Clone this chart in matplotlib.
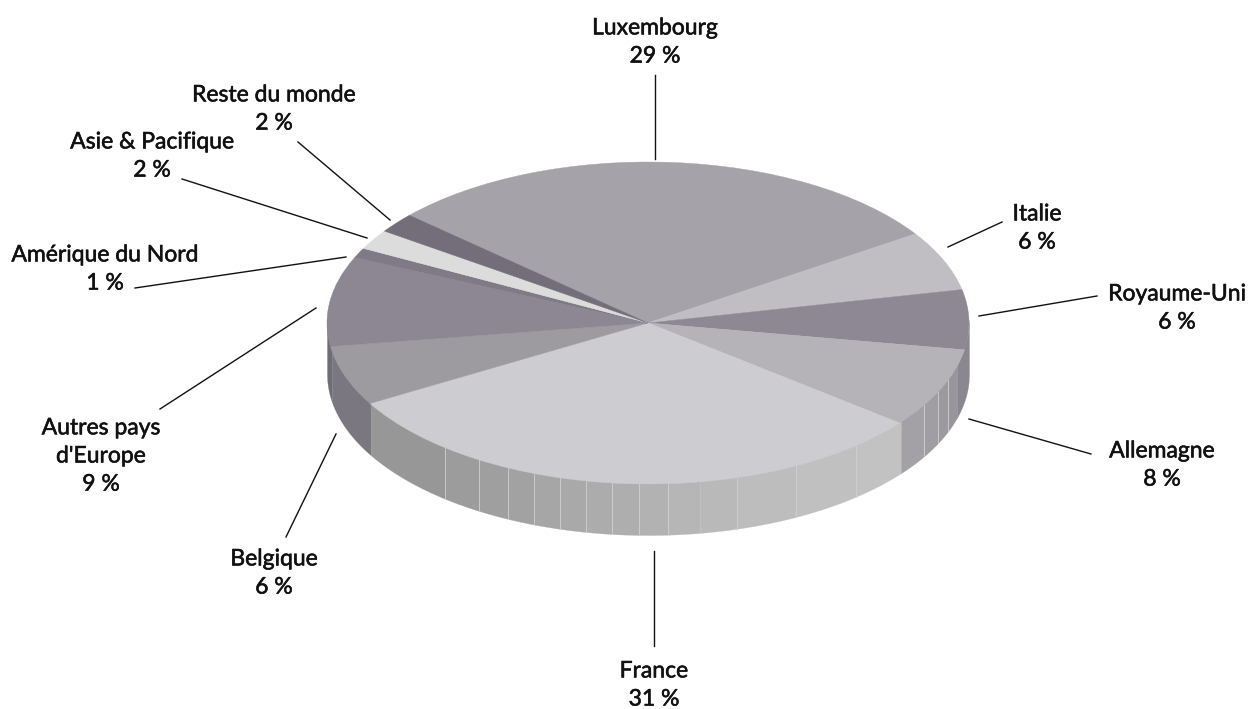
import numpy as np
import matplotlib
matplotlib.use("Agg")
import matplotlib.pyplot as plt
import matplotlib.patheffects as pe

labels = ["Luxembourg\n29 %", "Italie\n6 %", "Royaume-Uni\n6 %", "Allemagne\n8 %", "France\n31 %",
          "Belgique\n6 %", "Autres pays\nd'Europe\n9 %", "Amérique du Nord\n1 %", "Asie & Pacifique\n2 %",
          "Reste du monde\n2 %"]
values = [29, 6, 6, 8, 31, 6, 9, 1, 2, 2]
colors = ["#a5a3a9", "#c0bec3", "#8d8893", "#b5b3b8", "#cdccd1", "#9d9ba0", "#8c8793", "#7f7a85", "#dcdcdc", "#736e7a"]

# label centres and leader lines, in image pixels
label_pos = [(655, 42), (1037, 228), (1177, 308), (1162, 465), (654, 685),
             (274, 573), (101, 456), (105, 269), (152, 156), (274, 109)]
leaders = [((655, 75), (655, 159)), ((948, 247), (1002, 222)), ((979, 316), (1097, 296)),
           ((969, 419), (1091, 454)), ((654, 551), (654, 646)), ((286, 537), (336, 434)),
           ((160, 409), (316, 308)), ((135, 288), (346, 257)), ((182, 179), (367, 238)),
           ((298, 142), (390, 220))]

# the facets on the rim of the disc
rim_edges = [327, 332, 371, 445, 479, 508, 534, 560, 586, 612, 639, 668, 700, 737, 796, 856, 901, 924, 938, 948, 957, 969]
rim_colors = ["#6f6c76", "#7a7780", "#979797", "#9c9c9c", "#9f9f9f", "#a2a2a2", "#a6a6a6", "#a9a9a9", "#acacac",
              "#aeaeae", "#b2b2b2", "#b6b6b6", "#b9b9b9", "#bdbdbd", "#c0c0c0", "#c2c2c2", "#a3a1a5", "#a09ea3",
              "#9c9a9f", "#98969c", "#8a8790"]

W, H = 1248, 709
cx, cy, rx, ry, depth = 648, 323, 321, 161, 51

plt.rcParams["font.family"] = ["Lato", "DejaVu Sans"]
fig = plt.figure(figsize=(W / 100, H / 100), dpi=100)
ax = fig.add_axes([0, 0, 1, 1])

# rim first, the top face covers its upper edge
for i, c in enumerate(rim_colors):
    x = np.linspace(rim_edges[i], rim_edges[i + 1], 30)
    u = np.clip((x - cx) / rx, -1, 1)
    top = -np.sqrt(1 - u ** 2)
    ax.fill_between(u, top + 0.02, top - depth / ry, color=c, lw=0.2)
    if 2 < i < 20 and i != 12 and i != 16:
        ax.plot([u[0], u[0]], [top[0], top[0] - depth / ry], color="#cfcfcf", lw=0.6)

ax.pie(values, colors=colors, startangle=138, counterclock=False,
       wedgeprops=dict(edgecolor="none", linewidth=0))
for w, c in zip(ax.patches[-len(values):], colors):
    w.set_edgecolor(c)
    w.set_linewidth(0.3)

ax.set_xlim(-cx / rx, (W - cx) / rx)
ax.set_ylim((cy - H) / ry, cy / ry)
ax.set_aspect("auto")
ax.axis("off")

ov = fig.add_axes([0, 0, 1, 1])
ov.set_xlim(0, W)
ov.set_ylim(H, 0)
ov.axis("off")
for (a, b) in leaders:
    ov.plot([a[0], b[0]], [a[1], b[1]], color="#111111", lw=1.0)
for lab, (x, y) in zip(labels, label_pos):
    t = ov.text(x, y, lab, ha="center", va="center", fontsize=16.5, color="#111111", linespacing=1.42)
    t.set_path_effects([pe.withStroke(linewidth=0.4, foreground="#111111")])

fig.savefig("out.png", dpi=100)
